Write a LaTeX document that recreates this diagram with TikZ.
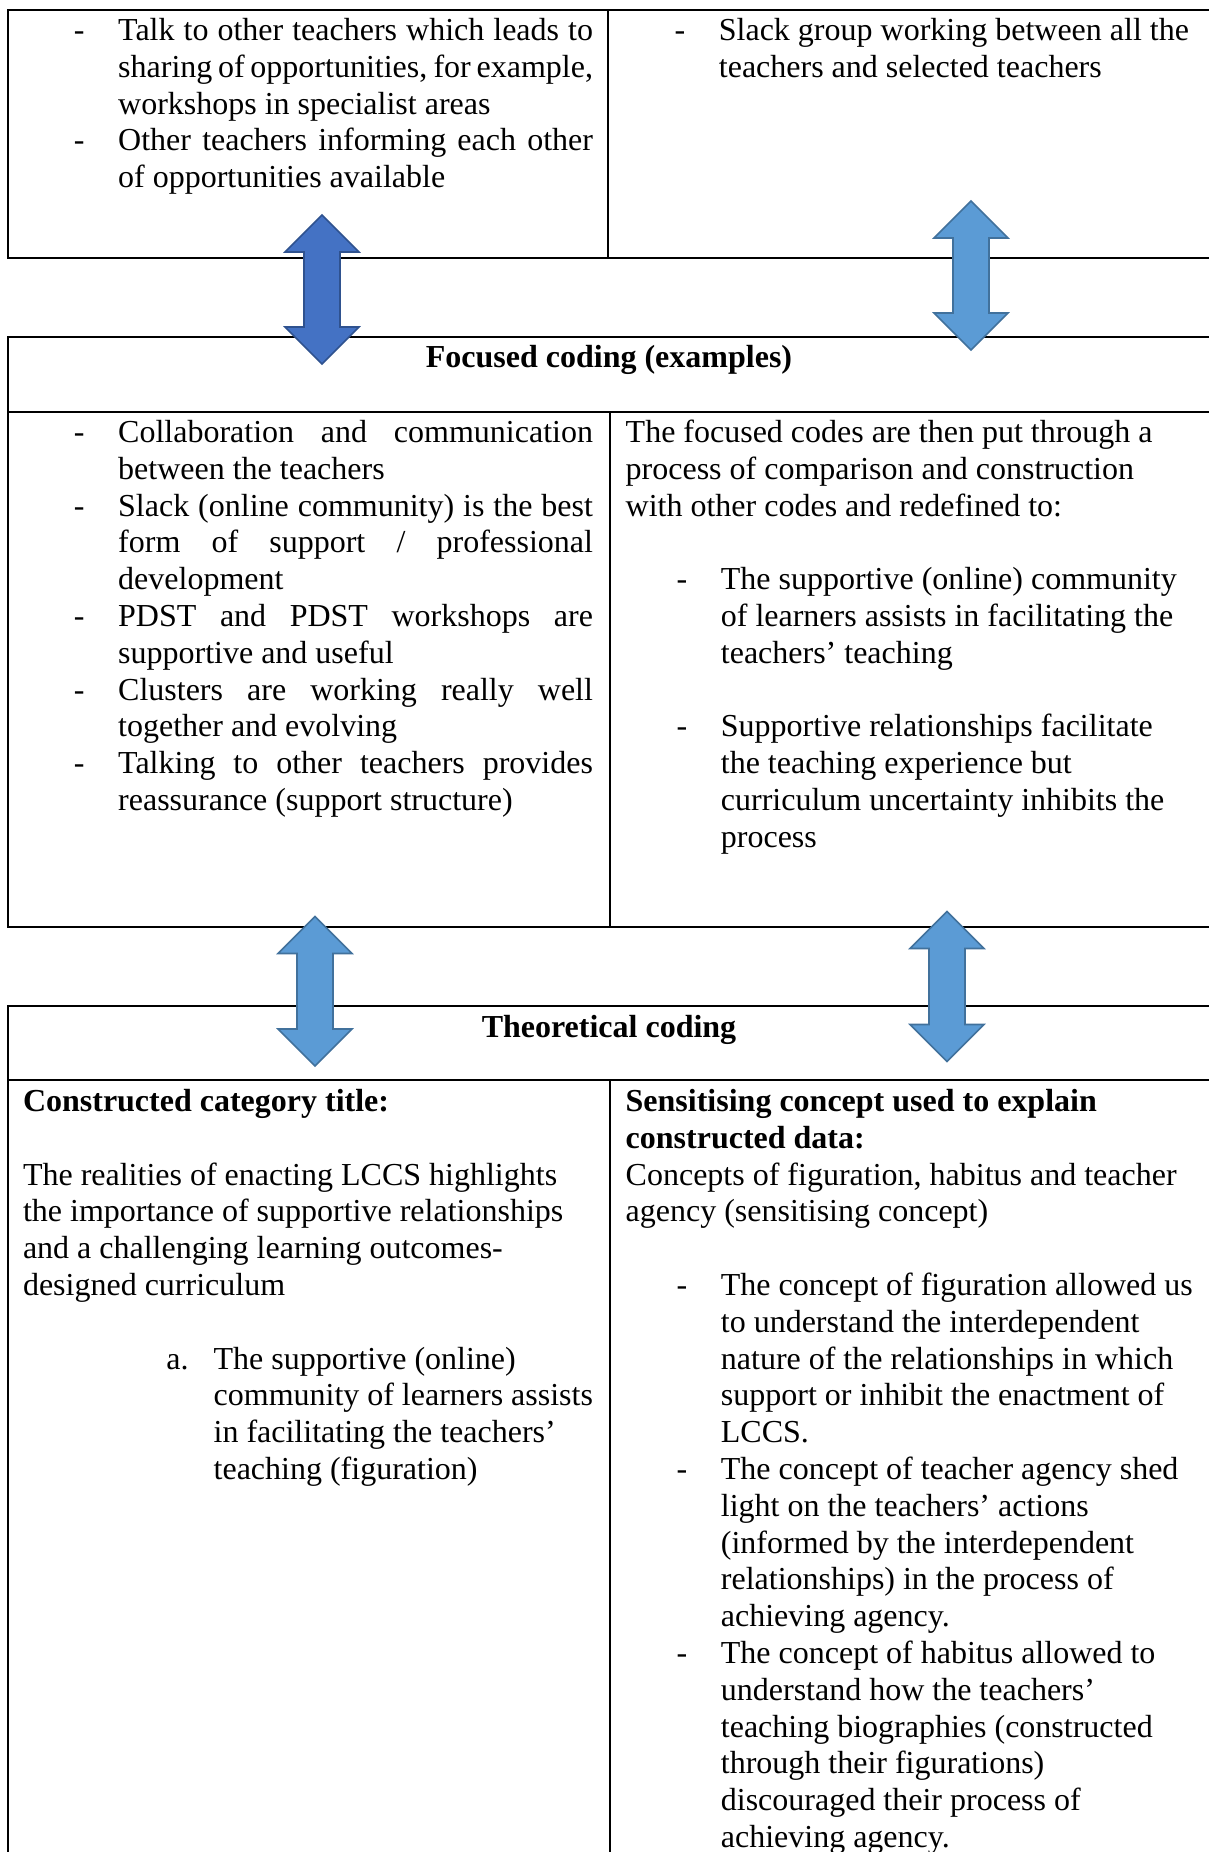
\documentclass[tikz,border=0pt]{standalone}
\usepackage{fontspec}
\setmainfont{Liberation Serif}
\usetikzlibrary{calc}

\definecolor{arrowdark}{HTML}{4472C4}
\definecolor{arrowdarkedge}{HTML}{2F528F}
\definecolor{arrowlight}{HTML}{5B9BD5}
\definecolor{arrowlightedge}{HTML}{41719C}

% line builders for table cells
\newdimen\cw
\newdimen\dashx \dashx=19.1pt
\newdimen\textx \textx=35.7pt
\newdimen\alphx \alphx=53.8pt
\newdimen\alphtx \alphtx=71.5pt
\newcommand\cellbox[1]{\vtop{\cw=213.75pt\baselineskip=13.8pt\lineskiplimit=-\maxdimen\lineskip=0pt #1}}
\newcommand\pR[1]{\hbox to\cw{#1\hfil}}
\newcommand\dJ[1]{\hbox to\cw{\hskip\dashx\rlap{-}\hskip\dimexpr\textx-\dashx\relax #1}}
\newcommand\dR[1]{\hbox to\cw{\hskip\dashx\rlap{-}\hskip\dimexpr\textx-\dashx\relax #1\hfil}}
\newcommand\cJ[1]{\hbox to\cw{\hskip\textx\relax #1}}
\newcommand\cR[1]{\hbox to\cw{\hskip\textx\relax #1\hfil}}
\newcommand\aR[2]{\hbox to\cw{\hskip\alphx\rlap{#1}\hskip\dimexpr\alphtx-\alphx\relax #2\hfil}}
\newcommand\aC[1]{\hbox to\cw{\hskip\alphtx\relax #1\hfil}}
\newcommand\blankline{\hbox{}}

\tikzset{
  cell/.style={inner sep=0pt, outer sep=0pt, anchor=base west,
    font=\fontsize{12pt}{13.8pt}\selectfont},
  head/.style={inner sep=0pt, outer sep=0pt, anchor=base,
    font=\fontsize{12pt}{13.8pt}\selectfont\bfseries},
  rule/.style={line width=0.75pt, black},
  darkarrow/.style={fill=arrowdark, draw=arrowdarkedge, line width=0.6pt, line join=miter},
  lightarrow/.style={fill=arrowlight, draw=arrowlightedge, line width=0.6pt, line join=miter}
}

% vertical double block arrow between two named coordinates
\newcommand\blockarrow[3]{%
  \filldraw[#3] let \p1=(#1), \p2=(#2) in
    (\x1,\y1) -- (\x1+13.875pt,\y1-13.875pt) -- (\x1+6.75pt,\y1-13.875pt)
    -- (\x1+6.75pt,\y2+13.875pt) -- (\x1+13.875pt,\y2+13.875pt) -- (\x2,\y2)
    -- (\x1-13.875pt,\y2+13.875pt) -- (\x1-6.75pt,\y2+13.875pt)
    -- (\x1-6.75pt,\y1-13.875pt) -- (\x1-13.875pt,\y1-13.875pt) -- cycle;}

\begin{document}
\begin{tikzpicture}[x=0.375pt, y=-0.375pt]
\useasboundingbox (0,0) rectangle (1209,1852);
\fill[white] (0,0) rectangle (1209,1852);

% ---- initial coding table ----
\draw[rule] (1209,10) -- (8,10) -- (8,258) -- (1209,258);
\draw[rule] (608,10) -- (608,258);

\node[cell] (tl) at (23,40.5) {\cellbox{%
  \dJ{Talk to other teachers which leads to}
  \cJ{sharing of opportunities, for example,}
  \cR{workshops in specialist areas}
  \dJ{Other teachers informing each other}
  \cR{of opportunities available}}};

\node[cell] (tr) at (623.7,40.5) {\cellbox{%
  \dR{Slack group working between all the}
  \cR{teachers and selected teachers}}};

% ---- focused coding table ----
\draw[rule] (1209,337) -- (8,337) -- (8,927) -- (1209,927);
\draw[rule] (8,412) -- (1209,412);
\draw[rule] (610,412) -- (610,927);

\node[head] (fh) at (609,367.5) {Focused coding (examples)};

\node[cell] (ml) at (23,442.5) {\cellbox{%
  \dJ{Collaboration and communication}
  \cR{between the teachers}
  \dJ{Slack (online community) is the best}
  \cJ{form of support / professional}
  \cR{development}
  \dJ{PDST and PDST workshops are}
  \cR{supportive and useful}
  \dJ{Clusters are working really well}
  \cR{together and evolving}
  \dJ{Talking to other teachers provides}
  \cR{reassurance (support structure)}}};

\node[cell] (mr) at (625.7,442.5) {\cellbox{%
  \pR{The focused codes are then put through a}
  \pR{process of comparison and construction}
  \pR{with other codes and redefined to:}
  \blankline
  \dR{The supportive (online) community}
  \cR{of learners assists in facilitating the}
  \cR{teachers’ teaching}
  \blankline
  \dR{Supportive relationships facilitate}
  \cR{the teaching experience but}
  \cR{curriculum uncertainty inhibits the}
  \cR{process}}};

% ---- theoretical coding table ----
\draw[rule] (1209,1006) -- (8,1006) -- (8,1852);
\draw[rule] (8,1080) -- (1209,1080);
\draw[rule] (610,1080) -- (610,1852);

\node[head] (th) at (609,1037.5) {Theoretical coding};

\node[cell] (bl) at (23,1111.5) {\cellbox{%
  \pR{\bfseries Constructed category title:}
  \blankline
  \pR{The realities of enacting LCCS highlights}
  \pR{the importance of supportive relationships}
  \pR{and a challenging learning outcomes-}
  \pR{designed curriculum}
  \blankline
  \aR{a.}{The supportive (online)}
  \aC{community of learners assists}
  \aC{in facilitating the teachers’}
  \aC{teaching (figuration)}}};

\node[cell] (br) at (625.7,1111.5) {\cellbox{%
  \pR{\bfseries Sensitising concept used to explain}
  \pR{\bfseries constructed data:}
  \pR{Concepts of figuration, habitus and teacher}
  \pR{agency (sensitising concept)}
  \blankline
  \dR{The concept of figuration allowed us}
  \cR{to understand the interdependent}
  \cR{nature of the relationships in which}
  \cR{support or inhibit the enactment of}
  \cR{LCCS.}
  \dR{The concept of teacher agency shed}
  \cR{light on the teachers’ actions}
  \cR{(informed by the interdependent}
  \cR{relationships) in the process of}
  \cR{achieving agency.}
  \dR{The concept of habitus allowed to}
  \cR{understand how the teachers’}
  \cR{teaching biographies (constructed}
  \cR{through their figurations)}
  \cR{discouraged their process of}
  \cR{achieving agency.}}};

% ---- double block arrows linking the stages ----
\coordinate (a1t) at (322,215);   \coordinate (a1b) at (322,364);
\coordinate (a2t) at (971,201);   \coordinate (a2b) at (971,350);
\coordinate (a3t) at (315,916.5); \coordinate (a3b) at (315,1066);
\coordinate (a4t) at (947,911.5); \coordinate (a4b) at (947,1061.5);

\blockarrow{a1t}{a1b}{darkarrow}
\blockarrow{a2t}{a2b}{lightarrow}
\blockarrow{a3t}{a3b}{lightarrow}
\blockarrow{a4t}{a4b}{lightarrow}
\end{tikzpicture}
\end{document}
